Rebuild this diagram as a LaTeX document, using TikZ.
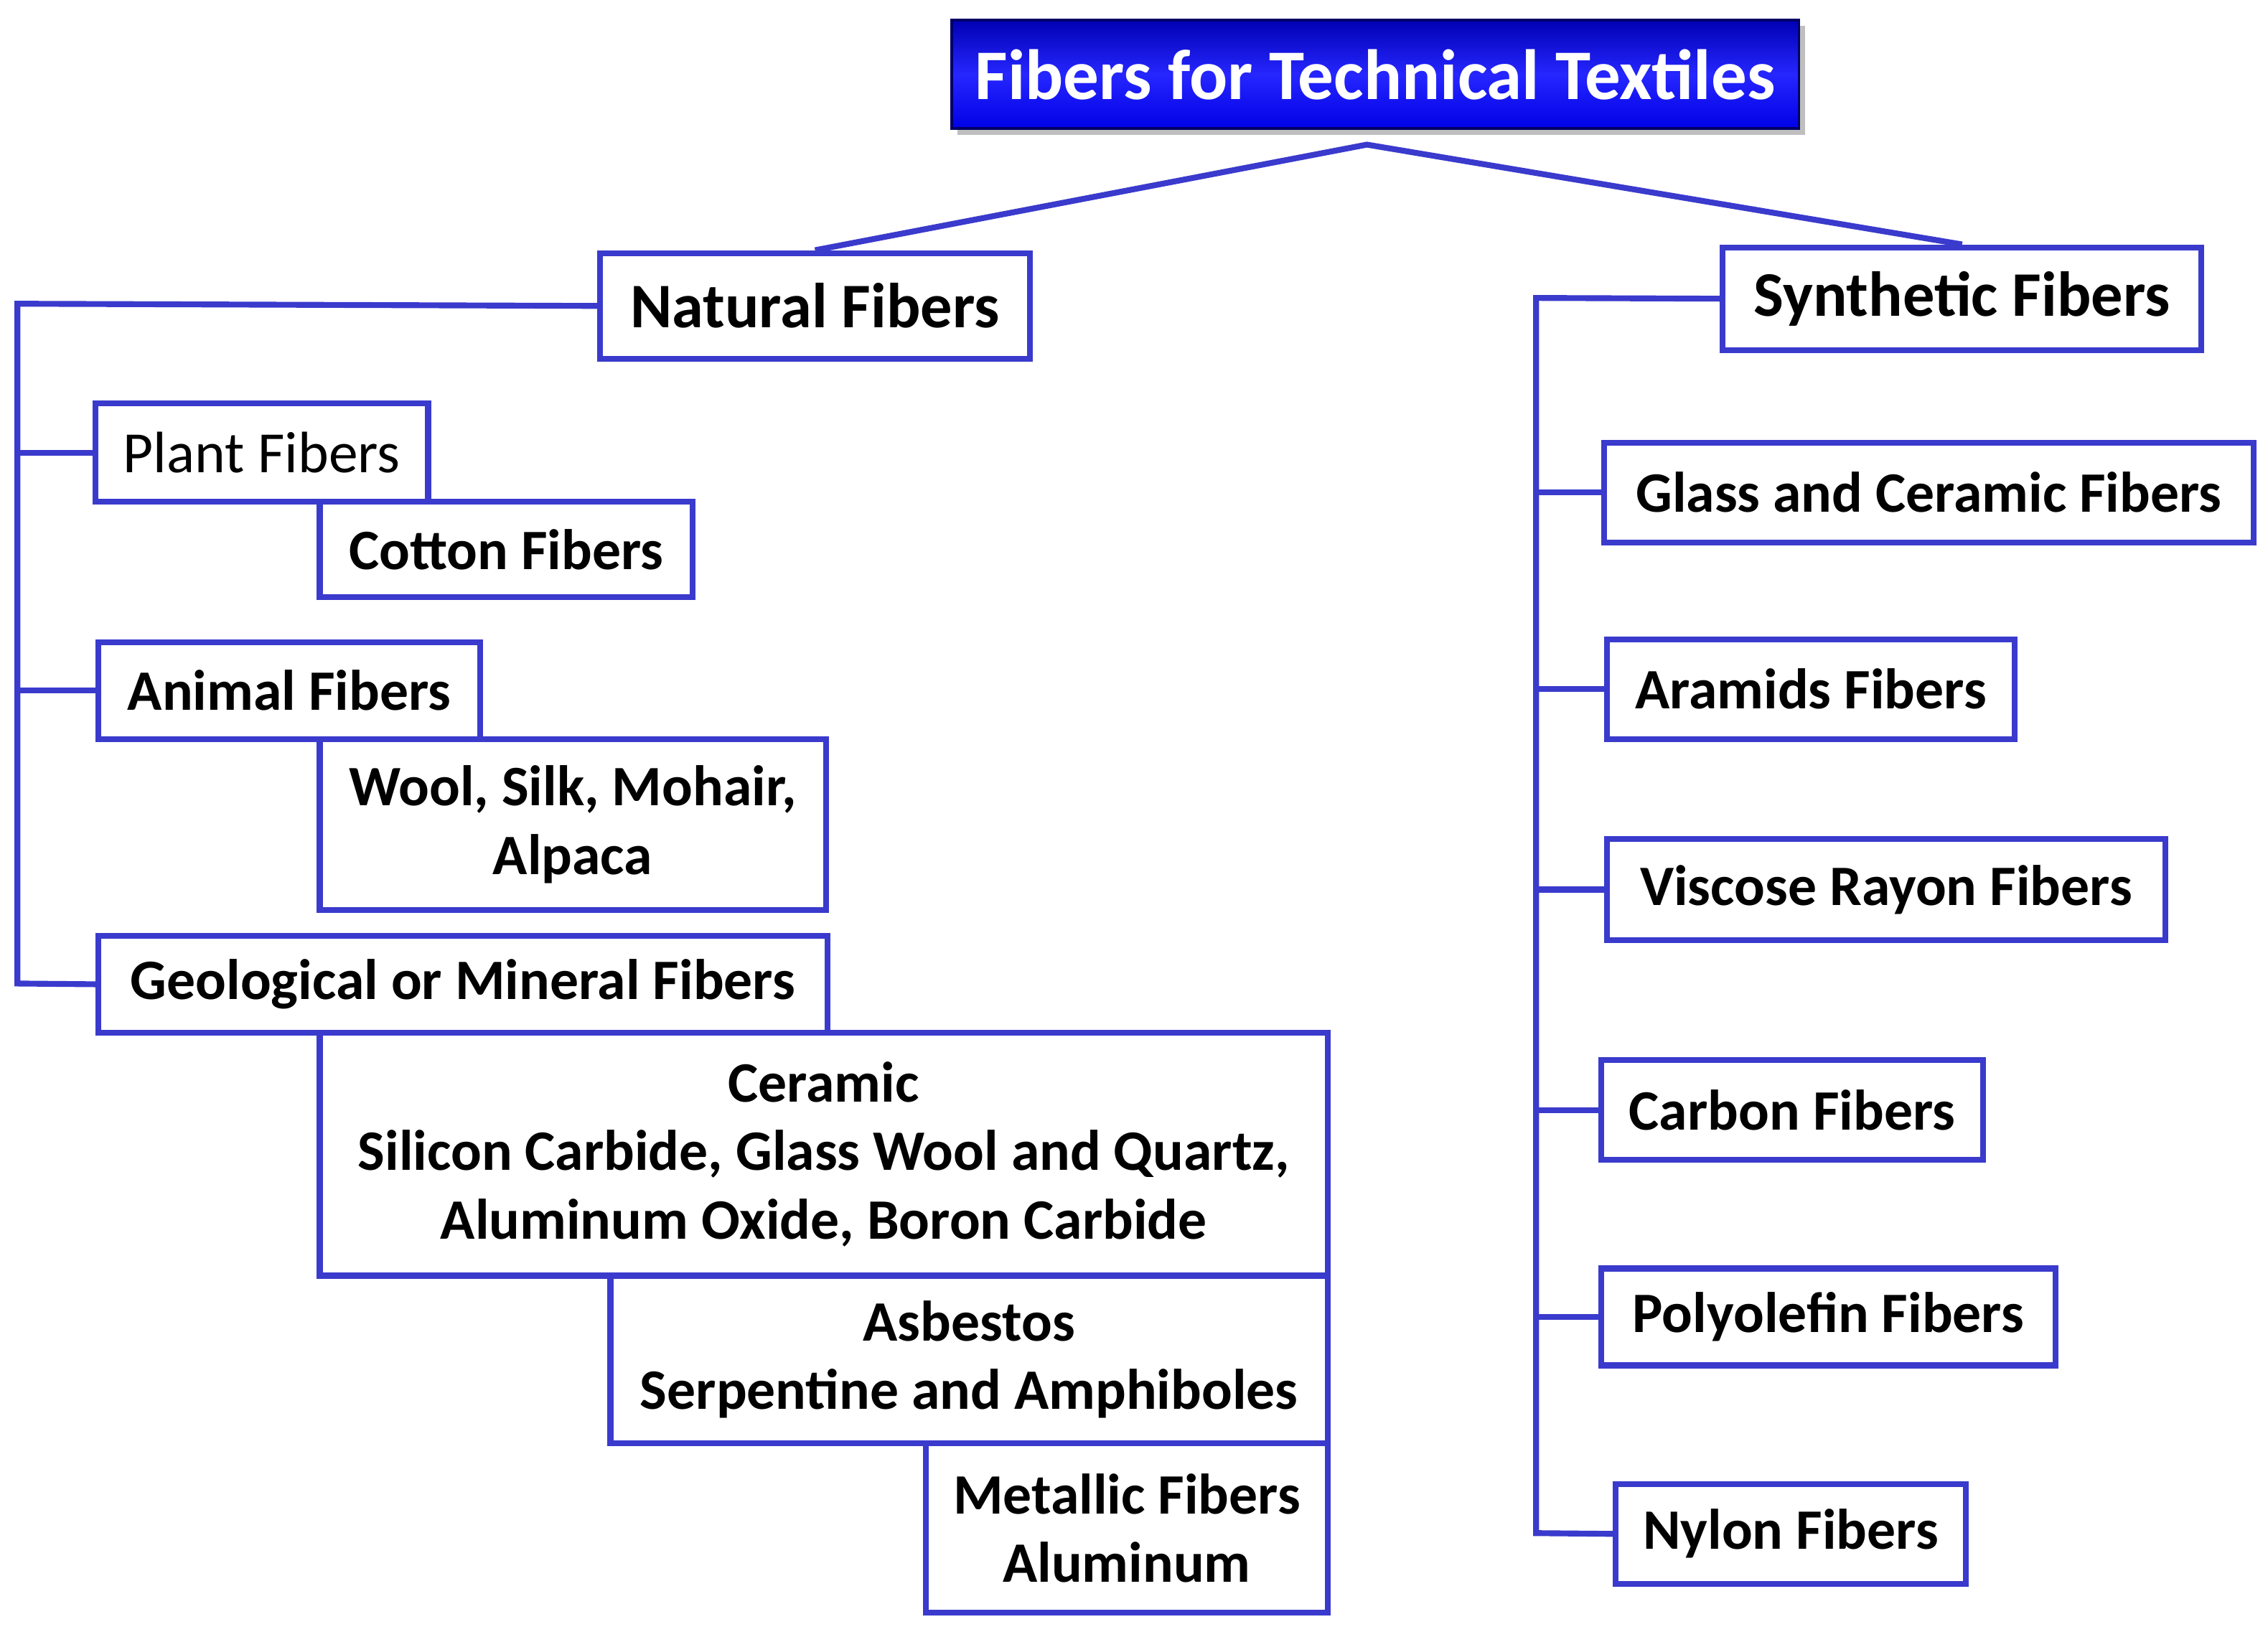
\documentclass[tikz,border=0pt]{standalone}
\usepackage{fontspec}
\setmainfont{Carlito}
\usetikzlibrary{shadows}
\definecolor{fiberblue}{RGB}{58,58,205}
\begin{document}
\begin{tikzpicture}[x=0.02cm, y=-0.02cm,
    box/.style={draw=fiberblue, line width=2.3pt, anchor=north west, align=center, inner sep=0pt, font=\fontsize{22.5}{27}\selectfont\bfseries},
    tie/.style={draw=fiberblue, line width=2.3pt}]
        \useasboundingbox (0,0) rectangle (1568,1128);
        % title
        \node[anchor=north west, minimum width=11.72cm, minimum height=1.5cm, top color=blue!70!black, bottom color=blue!90!black, middle color=blue!85, draw=blue!40!black, line width=1pt, drop shadow, text=white, font=\fontsize{28}{32}\selectfont\bfseries] (title) at (657,13) {Fibers for Technical Textiles};
        \coordinate (apex) at (945,100);
        % natural side
        \node[box, minimum width=5.94cm, minimum height=1.46cm, font=\fontsize{25}{28}\selectfont\bfseries] (nat) at (413,173) {Natural Fibers};
        \node[box, minimum width=4.6cm, minimum height=1.36cm, font=\fontsize{23}{26}\selectfont] (plant) at (64,277) {Plant Fibers};
        \node[box, minimum width=5.16cm, minimum height=1.32cm] (cotton) at (219,345) {Cotton Fibers};
        \node[box, minimum width=5.28cm, minimum height=1.34cm] (animal) at (66,442) {Animal Fibers};
        \node[box, minimum width=7.0cm, minimum height=2.36cm] (wool) at (219,509) {Wool, Silk, Mohair,\\ Alpaca};
        \node[box, minimum width=10.08cm, minimum height=1.34cm] (geo) at (66,645) {Geological or Mineral Fibers};
        \node[box, minimum width=13.94cm, minimum height=3.36cm] (ceramic) at (219,712) {Ceramic\\ Silicon Carbide, Glass Wool and Quartz,\\ Aluminum Oxide, Boron Carbide};
        \node[box, minimum width=9.92cm, minimum height=2.32cm] (asbestos) at (420,880) {Asbestos\\ Serpentine and Amphiboles};
        \node[box, minimum width=5.56cm, minimum height=2.34cm] (metal) at (638,996) {Metallic Fibers\\ Aluminum};
        % synthetic side
        \node[box, minimum width=6.62cm, minimum height=1.42cm, font=\fontsize{25}{28}\selectfont\bfseries] (syn) at (1189,169) {Synthetic Fibers};
        \node[box, minimum width=8.98cm, minimum height=1.38cm] (glass) at (1107,304) {Glass and Ceramic Fibers};
        \node[box, minimum width=5.64cm, minimum height=1.38cm] (aramid) at (1109,440) {Aramids Fibers};
        \node[box, minimum width=7.72cm, minimum height=1.4cm] (viscose) at (1109,578) {Viscose Rayon Fibers};
        \node[box, minimum width=5.28cm, minimum height=1.38cm] (carbon) at (1105,731) {Carbon Fibers};
        \node[box, minimum width=6.28cm, minimum height=1.34cm] (poly) at (1105,875) {Polyolefin Fibers};
        \node[box, minimum width=4.84cm, minimum height=1.38cm] (nylon) at (1115,1024) {Nylon Fibers};
        % connectors
        \draw[tie] (nat.north) -- (apex) -- (syn.north);
        \coordinate (lt) at (12,210);
        \coordinate (lb) at (12,680);
        \draw[tie] (nat.west) -- (lt) -- (lb) -- (geo.west);
        \draw[tie] (lt |- plant.west) -- (plant.west);
        \draw[tie] (lt |- animal.west) -- (animal.west);
        \coordinate (rt) at (1062,206);
        \coordinate (rb) at (1062,1060);
        \draw[tie] (syn.west) -- (rt) -- (rb) -- (nylon.west);
        \foreach \n in {glass, aramid, viscose, carbon, poly}
          \draw[tie] (rt |- \n.west) -- (\n.west);
\end{tikzpicture}
\end{document}
